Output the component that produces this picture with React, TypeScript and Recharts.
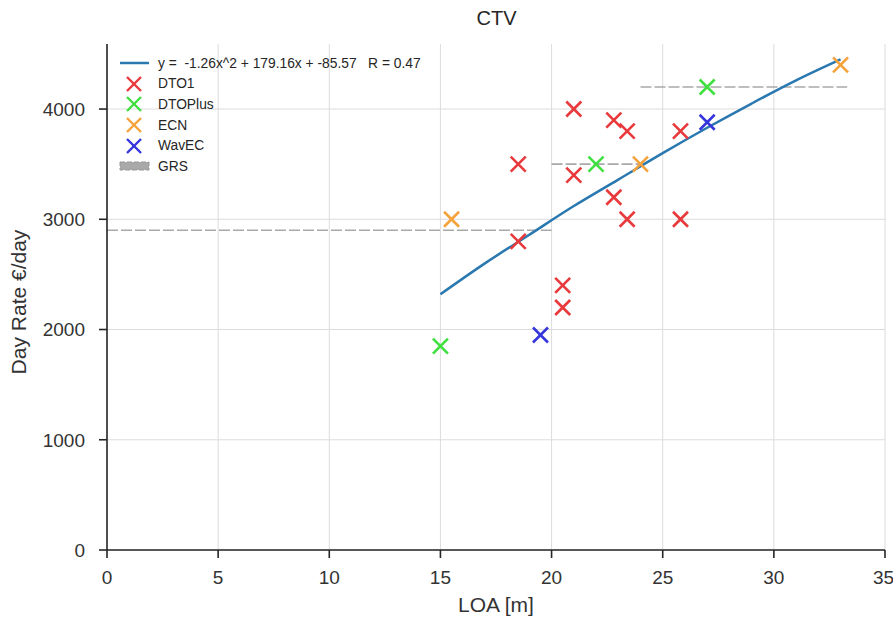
import React from 'react';
import { ComposedChart, Scatter, Line, XAxis, YAxis, CartesianGrid } from 'recharts';

const dto1X = [18.5, 18.5, 21, 21, 22.8, 23.4, 22.8, 23.4, 25.8, 25.8, 20.5, 20.5];
const dto1Y = [2800, 3500, 4000, 3400, 3900, 3800, 3200, 3000, 3800, 3000, 2400, 2200];
const dtoPlusX = [15, 22, 27];
const dtoPlusY = [1850, 3500, 4200];
const ecnX = [15.5, 24, 33];
const ecnY = [3000, 3500, 4400];
const wavecX = [19.5, 27];
const wavecY = [1950, 3880];

// fitted curve, values
const fitX = [15, 17, 19, 21, 23, 25, 27, 29, 31, 33];
const fitY = [2320, 2600, 2860, 3120, 3360, 3600, 3830, 4050, 4260, 4450];

// GRS segments
const grsX1 = [0, 20, 24];
const grsX2 = [20, 24, 33.3];
const grsY = [2900, 3500, 4200];

const xTicks = [0, 5, 10, 15, 20, 25, 30, 35];
const yTicks = [0, 1000, 2000, 3000, 4000];

const fitLabel = 'y =  -1.26x^2 + 179.16x + -85.57   R = 0.47';
const names = ['DTO1', 'DTOPlus', 'ECN', 'WavEC', 'GRS'];

const colors = {
  DTO1: '#e8393c',
  DTOPlus: '#3fe03f',
  ECN: '#f5a23a',
  WavEC: '#3535dc',
  fit: '#2a78b0',
  grs: '#a9a9a9',
};

const zip = (xs: number[], ys: number[]) => xs.map((x, i) => ({ x, y: ys[i] }));

const XMark = (color: string) => (props: any) => {
  const { cx, cy } = props;
  const r = 7.5;
  return (
    <g>
      <line x1={cx - r} y1={cy - r} x2={cx + r} y2={cy + r} stroke={color} strokeWidth={2.6} />
      <line x1={cx - r} y1={cy + r} x2={cx + r} y2={cy - r} stroke={color} strokeWidth={2.6} />
    </g>
  );
};

const font = '"Liberation Sans", Arial, sans-serif';

const LegendBox = () => {
  const rows: { label: string; icon: React.ReactNode }[] = [
    { label: fitLabel, icon: <line x1={2} y1={10} x2={31} y2={10} stroke={colors.fit} strokeWidth={2.5} /> },
    ...names.slice(0, 4).map((n) => ({
      label: n,
      icon: (
        <g>
          <line x1={9} y1={3} x2={23} y2={17} stroke={(colors as any)[n]} strokeWidth={2.4} />
          <line x1={9} y1={17} x2={23} y2={3} stroke={(colors as any)[n]} strokeWidth={2.4} />
        </g>
      ),
    })),
    {
      label: names[4],
      icon: <rect x={2} y={6} width={29} height={8} fill={colors.grs} stroke="#999" strokeDasharray="5 2" />,
    },
  ];
  return (
    <div
      style={{
        position: 'absolute',
        left: 118,
        top: 53,
        fontFamily: font,
        fontSize: 13.8,
        color: '#262626',
      }}
    >
      {rows.map((r, i) => (
        <div key={i} style={{ display: 'flex', alignItems: 'center', height: 20.6 }}>
          <svg width={34} height={20} style={{ marginRight: 6 }}>{r.icon}</svg>
          <span style={{ whiteSpace: 'pre' }}>{r.label}</span>
        </div>
      ))}
    </div>
  );
};

export default function App() {
  return (
    <div style={{ position: 'absolute', left: 0, top: 0, width: 893, height: 621, background: '#fff' }}>
      <div
        style={{
          position: 'absolute',
          left: 0,
          width: 993,
          top: 7,
          textAlign: 'center',
          fontFamily: font,
          fontSize: 20,
          color: '#262626',
        }}
      >
        CTV
      </div>
      <ComposedChart
        width={893}
        height={621}
        margin={{ top: 44, right: 8, bottom: 21, left: 47 }}
        style={{ fontFamily: font }}
      >
        <CartesianGrid stroke="#dcdcdc" strokeWidth={1} horizontalValues={yTicks} verticalValues={xTicks} />
        <XAxis
          type="number"
          dataKey="x"
          domain={[0, 35]}
          ticks={xTicks}
          height={50}
          allowDataOverflow
          tickSize={8}
          tickMargin={13}
          stroke="#262626"
          strokeWidth={1.6}
          tick={{ fill: '#333', fontSize: 19 }}
          label={({ viewBox }: any) => (
            <text
              x={viewBox.x + viewBox.width / 2}
              y={viewBox.y + 62}
              textAnchor="middle"
              fill="#333"
              fontSize={21}
            >
              LOA [m]
            </text>
          )}
        />
        <YAxis
          type="number"
          dataKey="y"
          domain={[0, 4590]}
          ticks={yTicks}
          width={60}
          allowDataOverflow
          tickSize={8}
          tickMargin={14}
          stroke="#262626"
          strokeWidth={1.6}
          tick={{ fill: '#333', fontSize: 19 }}
          label={({ viewBox }: any) => {
            const cy = viewBox.y + viewBox.height / 2 + 5;
            const cx = 26;
            return (
              <text
                x={cx}
                y={cy}
                transform={`rotate(-90 ${cx} ${cy})`}
                textAnchor="middle"
                fill="#333"
                fontSize={21}
              >
                Day Rate €/day
              </text>
            );
          }}
        />
        {grsX1.map((x1, i) => (
          <Line
            key={'grs' + i}
            data={[{ x: x1, y: grsY[i] }, { x: grsX2[i], y: grsY[i] }]}
            dataKey="y"
            stroke={colors.grs}
            strokeWidth={1.6}
            strokeDasharray="11 3"
            dot={false}
            isAnimationActive={false}
            legendType="none"
          />
        ))}
        <Line
          data={zip(fitX, fitY)}
          dataKey="y"
          type="monotone"
          stroke={colors.fit}
          strokeWidth={2.5}
          dot={false}
          isAnimationActive={false}
        />
        <Scatter data={zip(dto1X, dto1Y)} dataKey="y" shape={XMark(colors.DTO1)} isAnimationActive={false} />
        <Scatter data={zip(dtoPlusX, dtoPlusY)} dataKey="y" shape={XMark(colors.DTOPlus)} isAnimationActive={false} />
        <Scatter data={zip(ecnX, ecnY)} dataKey="y" shape={XMark(colors.ECN)} isAnimationActive={false} />
        <Scatter data={zip(wavecX, wavecY)} dataKey="y" shape={XMark(colors.WavEC)} isAnimationActive={false} />
      </ComposedChart>
      <LegendBox />
    </div>
  );
}
